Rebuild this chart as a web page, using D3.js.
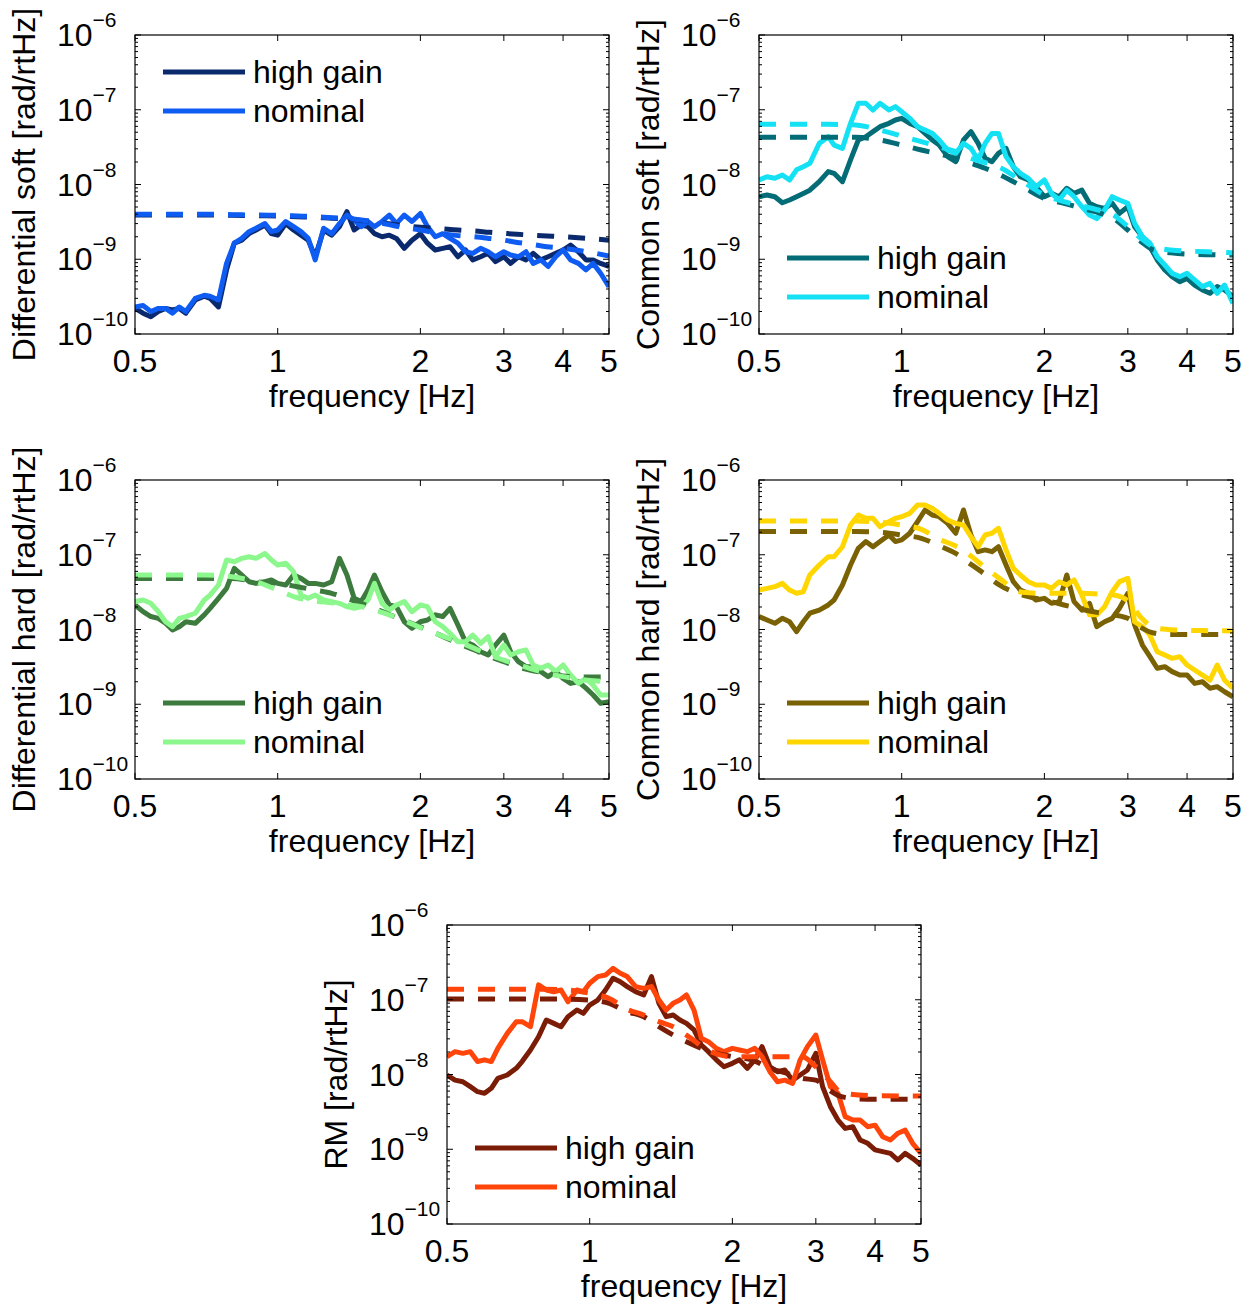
<!DOCTYPE html>
<html>
<head>
<meta charset="utf-8">
<script src="https://cdn.jsdelivr.net/npm/d3@7"></script>
<style>
  html, body { margin: 0; padding: 0; background: #fff; }
  svg { display: block; }
  text { font-family: "Liberation Sans", Arial, Helvetica, sans-serif; fill: #000; }
</style>
</head>
<body>
<svg id="chart" width="1250" height="1306"></svg>
<script>
// Frequency grid of the measured spectra [Hz]
const freq = [0.50, 0.52, 0.54, 0.56, 0.58, 0.60, 0.62, 0.64, 0.67, 0.70, 0.72, 0.75, 0.78, 0.81, 0.84, 0.87,
  0.90, 0.94, 0.97, 1.00, 1.04, 1.08, 1.12, 1.16, 1.20, 1.25, 1.30, 1.35, 1.40, 1.45, 1.50, 1.55,
  1.60, 1.66, 1.72, 1.78, 1.85, 1.92, 2.00, 2.07, 2.15, 2.23, 2.31, 2.40, 2.49, 2.58, 2.68, 2.78,
  2.88, 3.00, 3.10, 3.22, 3.34, 3.46, 3.59, 3.72, 3.86, 4.00, 4.15, 4.31, 4.47, 4.63, 4.80, 5.00];

// Frequency grid of the modelled spectra [Hz]
const freqModel = [0.5, 0.6, 0.7, 0.8, 0.9, 1.0, 1.1, 1.2, 1.3, 1.4, 1.5, 1.6, 1.8, 2.0, 2.2, 2.4, 2.6, 2.8,
  3.0, 3.2, 3.4, 3.7, 4.0, 4.5, 5.0];

// Differential soft [rad/rtHz]
const diffSoftHigh = [2.2e-10, 1.9e-10, 1.7e-10, 2.0e-10, 2.2e-10, 2.1e-10, 2.2e-10, 1.9e-10, 2.85e-10, 3.2e-10,
  3.0e-10, 2.3e-10, 7.2e-10, 1.64e-9, 1.8e-9, 2.2e-9, 2.46e-9, 2.87e-9, 2.2e-9, 2.1e-9,
  3.0e-9, 2.46e-9, 2.1e-9, 1.8e-9, 1.08e-9, 2.46e-9, 2.1e-9, 2.73e-9, 4.33e-9, 2.46e-9,
  2.87e-9, 2.73e-9, 2.2e-9, 2.0e-9, 2.1e-9, 1.9e-9, 1.4e-9, 1.8e-9, 2.2e-9, 1.64e-9,
  1.33e-9, 1.4e-9, 1.47e-9, 1.08e-9, 1.33e-9, 9.8e-10, 1.08e-9, 1.2e-9, 9.3e-10, 1.08e-9,
  8.8e-10, 1.08e-9, 9.8e-10, 1.2e-9, 9.8e-10, 1.08e-9, 1.2e-9, 1.33e-9, 1.55e-9, 1.26e-9,
  9.8e-10, 9.8e-10, 8.8e-10, 8.0e-10];
const diffSoftNom = [2.3e-10, 2.4e-10, 2.0e-10, 2.2e-10, 2.2e-10, 1.9e-10, 2.3e-10, 2.0e-10, 3.0e-10, 3.3e-10,
  3.2e-10, 2.85e-10, 8.8e-10, 1.64e-9, 1.9e-9, 2.34e-9, 2.6e-9, 3.0e-9, 2.34e-9, 2.46e-9,
  3.2e-9, 2.73e-9, 2.34e-9, 1.9e-9, 9.8e-10, 2.6e-9, 2.2e-9, 3.0e-9, 3.9e-9, 3.35e-9,
  2.73e-9, 3.2e-9, 2.73e-9, 3.2e-9, 3.9e-9, 3.0e-9, 3.9e-9, 3.2e-9, 4.1e-9, 2.73e-9,
  2.0e-9, 2.2e-9, 1.9e-9, 1.64e-9, 1.26e-9, 1.2e-9, 1.4e-9, 1.26e-9, 1.08e-9, 1.26e-9,
  1.14e-9, 1.08e-9, 1.26e-9, 8.8e-10, 9.8e-10, 8.0e-10, 1.08e-9, 1.33e-9, 9.8e-10, 8.8e-10,
  7.2e-10, 8.8e-10, 6.5e-10, 4.3e-10];
const diffSoftHighModel = [3.9e-9, 3.9e-9, 3.9e-9, 3.87e-9, 3.83e-9, 3.79e-9, 3.71e-9, 3.64e-9, 3.53e-9, 3.46e-9,
  3.31e-9, 3.18e-9, 2.87e-9, 2.68e-9, 2.57e-9, 2.46e-9, 2.39e-9, 2.29e-9, 2.22e-9, 2.16e-9,
  2.11e-9, 2.05e-9, 2.0e-9, 1.9e-9, 1.8e-9];
const diffSoftNomModel = [4.0e-9, 4.0e-9, 4.0e-9, 3.95e-9, 3.9e-9, 3.87e-9, 3.79e-9, 3.71e-9, 3.6e-9, 3.53e-9,
  3.35e-9, 3.18e-9, 2.73e-9, 2.46e-9, 2.22e-9, 2.07e-9, 2.0e-9, 1.9e-9, 1.8e-9, 1.68e-9,
  1.6e-9, 1.47e-9, 1.4e-9, 1.26e-9, 1.1e-9];

// Common soft [rad/rtHz]
const commSoftHigh = [6.87e-9, 7.24e-9, 6.87e-9, 5.7e-9, 6.2e-9, 6.87e-9, 7.6e-9, 8.4e-9, 1.09e-8, 1.49e-8,
  1.41e-8, 1.09e-8, 2.13e-8, 3.94e-8, 4.36e-8, 5.09e-8, 5.94e-8, 6.58e-8, 7.29e-8, 7.68e-8,
  6.58e-8, 5.94e-8, 4.83e-8, 3.94e-8, 3.37e-8, 2.36e-8, 2.02e-8, 3.94e-8, 5.09e-8, 3.55e-8,
  2.24e-8, 2.02e-8, 2.61e-8, 3.05e-8, 1.73e-8, 1.27e-8, 1.15e-8, 9.35e-9, 6.87e-9, 7.6e-9,
  6.87e-9, 8.9e-9, 7.6e-9, 8.4e-9, 5.6e-9, 5.05e-9, 4.8e-9, 5.6e-9, 4.11e-9, 5.05e-9,
  2.73e-9, 2.0e-9, 1.47e-9, 9.8e-10, 7.18e-10, 5.85e-10, 5.02e-10, 5.55e-10, 4.52e-10, 3.88e-10,
  3.5e-10, 4.3e-10, 3.88e-10, 3.16e-10];
const commSoftNom = [1.15e-8, 1.27e-8, 1.21e-8, 1.34e-8, 1.15e-8, 1.57e-8, 1.73e-8, 1.92e-8, 3.55e-8, 4.36e-8,
  3.37e-8, 3.05e-8, 6.58e-8, 1.22e-7, 1.22e-7, 9.9e-8, 1.22e-7, 9.9e-8, 1.1e-7, 9.4e-8,
  7.68e-8, 5.94e-8, 5.36e-8, 4.83e-8, 3.94e-8, 2.89e-8, 2.61e-8, 3.55e-8, 3.05e-8, 2.13e-8,
  3.55e-8, 4.83e-8, 4.83e-8, 2.36e-8, 1.73e-8, 1.41e-8, 1.21e-8, 9.35e-9, 1.15e-8, 7.6e-9,
  6.2e-9, 8.4e-9, 6.87e-9, 5.05e-9, 3.9e-9, 3.5e-9, 4.56e-9, 6.87e-9, 6.2e-9, 5.6e-9,
  3.03e-9, 2.0e-9, 1.64e-9, 1.08e-9, 8.38e-10, 6.48e-10, 5.85e-10, 6.48e-10, 5.28e-10, 4.3e-10,
  4.76e-10, 3.5e-10, 4.52e-10, 2.57e-10];
const commSoftHighModel = [4.3e-8, 4.3e-8, 4.3e-8, 4.3e-8, 3.94e-8, 3.37e-8, 2.89e-8, 2.56e-8, 2.24e-8, 1.92e-8,
  1.65e-8, 1.38e-8, 9.35e-9, 6.53e-9, 5.6e-9, 4.8e-9, 4.2e-9, 3.5e-9, 2.46e-9, 1.72e-9,
  1.33e-9, 1.22e-9, 1.17e-9, 1.15e-9, 1.14e-9];
const commSoftNomModel = [6.38e-8, 6.38e-8, 6.38e-8, 6.25e-8, 5.36e-8, 4.45e-8, 3.74e-8, 3.2e-8, 2.75e-8, 2.24e-8,
  1.96e-8, 1.73e-8, 1.09e-8, 7.24e-9, 5.89e-9, 5.16e-9, 4.56e-9, 3.9e-9, 2.73e-9, 1.9e-9,
  1.47e-9, 1.33e-9, 1.29e-9, 1.25e-9, 1.22e-9];

// Differential hard [rad/rtHz]
const diffHardHigh = [2.13e-8, 1.73e-8, 1.49e-8, 1.41e-8, 1.21e-8, 9.85e-9, 1.09e-8, 1.27e-8, 1.21e-8, 1.57e-8,
  1.92e-8, 2.61e-8, 3.55e-8, 6.58e-8, 5.36e-8, 4.36e-8, 4.14e-8, 4.36e-8, 4.6e-8, 4.14e-8,
  3.94e-8, 5.36e-8, 4.83e-8, 4.14e-8, 4.14e-8, 3.94e-8, 4.36e-8, 8.95e-8, 5.36e-8, 2.61e-8,
  2.36e-8, 3.37e-8, 5.36e-8, 3.2e-8, 2.13e-8, 2.02e-8, 1.27e-8, 1.04e-8, 1.27e-8, 1.34e-8,
  1.57e-8, 1.49e-8, 1.92e-8, 1.15e-8, 6.87e-9, 6.2e-9, 5.05e-9, 4.56e-9, 6.2e-9, 8.4e-9,
  5.05e-9, 3.71e-9, 3.18e-9, 3.18e-9, 2.73e-9, 2.34e-9, 2.73e-9, 2.22e-9, 1.9e-9, 2.0e-9,
  1.64e-9, 1.33e-9, 1.03e-9, 1.08e-9];
const diffHardNom = [2.36e-8, 2.48e-8, 2.24e-8, 1.73e-8, 1.27e-8, 1.09e-8, 1.41e-8, 1.49e-8, 1.65e-8, 2.48e-8,
  2.89e-8, 3.94e-8, 8.5e-8, 8.08e-8, 8.95e-8, 9.4e-8, 8.95e-8, 1.04e-7, 8.5e-8, 7.29e-8,
  7.68e-8, 5.94e-8, 2.89e-8, 2.61e-8, 2.89e-8, 2.48e-8, 2.36e-8, 2.24e-8, 2.02e-8, 1.92e-8,
  2.02e-8, 2.48e-8, 4.14e-8, 2.24e-8, 1.82e-8, 2.13e-8, 2.36e-8, 1.73e-8, 2.13e-8, 2.02e-8,
  1.27e-8, 1.09e-8, 8.9e-9, 6.87e-9, 6.87e-9, 8.4e-9, 6.53e-9, 8.0e-9, 4.33e-9, 6.2e-9,
  4.56e-9, 5.05e-9, 5.32e-9, 3.35e-9, 3.03e-9, 3.35e-9, 2.73e-9, 3.35e-9, 2.46e-9, 1.9e-9,
  2.22e-9, 1.8e-9, 1.33e-9, 1.33e-9];
const diffHardHighModel = [4.83e-8, 4.83e-8, 4.83e-8, 4.83e-8, 4.36e-8, 4.14e-8, 3.74e-8, 3.37e-8, 3.05e-8, 2.61e-8,
  2.24e-8, 1.92e-8, 1.41e-8, 1.09e-8, 8.4e-9, 6.53e-9, 5.32e-9, 4.33e-9, 3.71e-9, 3.18e-9,
  2.87e-9, 2.6e-9, 2.39e-9, 2.32e-9, 2.32e-9];
const diffHardNomModel = [5.36e-8, 5.36e-8, 5.36e-8, 5.09e-8, 4.36e-8, 3.37e-8, 2.66e-8, 2.41e-8, 2.27e-8, 2.13e-8,
  2.02e-8, 1.82e-8, 1.41e-8, 1.06e-8, 8.4e-9, 6.87e-9, 5.6e-9, 4.56e-9, 3.9e-9, 3.42e-9,
  3.03e-9, 2.6e-9, 2.34e-9, 2.1e-9, 2.0e-9];

// Common hard [rad/rtHz]
const commHardHigh = [1.49e-8, 1.34e-8, 1.21e-8, 1.41e-8, 1.27e-8, 9.35e-9, 1.27e-8, 1.65e-8, 1.82e-8, 2.13e-8,
  2.48e-8, 3.94e-8, 7.29e-8, 1.22e-7, 1.5e-7, 1.28e-7, 1.5e-7, 1.84e-7, 1.5e-7, 1.58e-7,
  1.94e-7, 2.77e-7, 3.97e-7, 3.4e-7, 3.23e-7, 2.63e-7, 1.94e-7, 3.97e-7, 1.84e-7, 1.1e-7,
  1.16e-7, 1.1e-7, 1.28e-7, 7.29e-8, 4.36e-8, 3.37e-8, 3.05e-8, 2.48e-8, 2.61e-8, 2.24e-8,
  2.36e-8, 5.36e-8, 2.36e-8, 1.82e-8, 2.24e-8, 1.09e-8, 1.27e-8, 1.41e-8, 1.92e-8, 3.05e-8,
  1.15e-8, 6.2e-9, 4.33e-9, 3.03e-9, 3.18e-9, 2.73e-9, 2.46e-9, 2.46e-9, 1.9e-9, 2.0e-9,
  1.64e-9, 1.72e-9, 1.47e-9, 1.26e-9];
const commHardNom = [3.37e-8, 3.55e-8, 3.74e-8, 4.14e-8, 3.37e-8, 3.05e-8, 3.2e-8, 5.36e-8, 7.29e-8, 9.4e-8,
  9.4e-8, 1.28e-7, 2.5e-7, 3.4e-7, 3.07e-7, 3.07e-7, 2.38e-7, 2.77e-7, 3.07e-7, 3.23e-7,
  3.58e-7, 4.63e-7, 4.63e-7, 4.18e-7, 3.58e-7, 2.92e-7, 2.63e-7, 2.5e-7, 1.74e-7, 1.28e-7,
  1.84e-7, 1.94e-7, 2.26e-7, 1.16e-7, 6.58e-8, 5.36e-8, 4.36e-8, 3.94e-8, 3.94e-8, 3.55e-8,
  4.36e-8, 3.94e-8, 4.6e-8, 2.89e-8, 1.57e-8, 1.57e-8, 2.02e-8, 3.2e-8, 4.36e-8, 4.83e-8,
  1.27e-8, 1.09e-8, 8.4e-9, 5.05e-9, 4.56e-9, 4.11e-9, 4.33e-9, 3.35e-9, 2.87e-9, 2.46e-9,
  2.1e-9, 3.35e-9, 2.1e-9, 1.64e-9];
const commHardHighModel = [2.04e-7, 2.04e-7, 2.04e-7, 2.04e-7, 2.0e-7, 1.84e-7, 1.66e-7, 1.32e-7, 1.04e-7, 7.44e-8,
  5.47e-8, 4.02e-8, 2.89e-8, 2.48e-8, 2.13e-8, 1.86e-8, 1.68e-8, 1.57e-8, 1.41e-8, 1.06e-8,
  8.98e-9, 8.6e-9, 8.6e-9, 8.6e-9, 8.6e-9];
const commHardNomModel = [2.83e-7, 2.83e-7, 2.83e-7, 2.83e-7, 2.72e-7, 2.5e-7, 2.19e-7, 1.61e-7, 1.31e-7, 9.62e-8,
  6.72e-8, 4.94e-8, 3.14e-8, 3.05e-8, 3.05e-8, 3.05e-8, 2.98e-8, 2.89e-8, 2.41e-8, 1.44e-8,
  1.06e-8, 9.95e-9, 9.74e-9, 9.64e-9, 9.54e-9];

// RM [rad/rtHz]
const rmHigh = [9.85e-9, 8.4e-9, 8.0e-9, 6.87e-9, 5.89e-9, 5.6e-9, 6.53e-9, 8.9e-9, 9.85e-9, 1.21e-8,
  1.49e-8, 2.13e-8, 3.2e-8, 5.36e-8, 4.83e-8, 4.36e-8, 5.94e-8, 7.29e-8, 6.58e-8, 8.5e-8,
  9.9e-8, 1.35e-7, 1.94e-7, 1.74e-7, 1.5e-7, 1.28e-7, 1.16e-7, 2.04e-7, 8.95e-8, 5.94e-8,
  6.25e-8, 5.36e-8, 4.83e-8, 3.94e-8, 2.48e-8, 2.02e-8, 1.57e-8, 1.27e-8, 1.41e-8, 1.57e-8,
  1.21e-8, 1.57e-8, 2.36e-8, 1.27e-8, 1.09e-8, 1.15e-8, 8.4e-9, 9.85e-9, 1.15e-8, 1.92e-8,
  6.87e-9, 3.71e-9, 2.46e-9, 1.9e-9, 2.0e-9, 1.33e-9, 1.2e-9, 9.8e-10, 9.3e-10, 8.8e-10,
  7.18e-10, 8.8e-10, 7.56e-10, 6.16e-10];
const rmNom = [1.73e-8, 2.02e-8, 1.92e-8, 2.02e-8, 1.49e-8, 1.57e-8, 1.49e-8, 2.24e-8, 3.55e-8, 5.09e-8,
  5.09e-8, 4.36e-8, 1.58e-7, 1.35e-7, 1.28e-7, 1.35e-7, 9.4e-8, 1.35e-7, 1.28e-7, 1.66e-7,
  2.04e-7, 2.14e-7, 2.63e-7, 2.26e-7, 2.04e-7, 1.5e-7, 1.42e-7, 1.5e-7, 9.9e-8, 7.29e-8,
  8.95e-8, 9.9e-8, 1.16e-7, 7.29e-8, 3.05e-8, 2.75e-8, 2.24e-8, 2.02e-8, 2.24e-8, 2.13e-8,
  2.02e-8, 2.24e-8, 1.73e-8, 1.09e-8, 8.0e-9, 8.4e-9, 7.6e-9, 1.57e-8, 2.36e-8, 3.37e-8,
  1.57e-8, 6.87e-9, 5.6e-9, 2.73e-9, 2.46e-9, 2.46e-9, 2.0e-9, 2.1e-9, 1.47e-9, 1.33e-9,
  1.64e-9, 1.8e-9, 1.2e-9, 8.8e-10];
const rmHighModel = [1.02e-7, 1.02e-7, 1.02e-7, 1.02e-7, 1.02e-7, 9.9e-8, 8.95e-8, 6.93e-8, 5.94e-8, 4.36e-8,
  3.37e-8, 2.75e-8, 2.02e-8, 1.73e-8, 1.57e-8, 1.21e-8, 1.04e-8, 8.9e-9, 8.4e-9, 6.2e-9,
  5.05e-9, 4.7e-9, 4.65e-9, 4.65e-9, 4.65e-9];
const rmNomModel = [1.38e-7, 1.38e-7, 1.38e-7, 1.38e-7, 1.35e-7, 1.22e-7, 1.04e-7, 7.44e-8, 6.25e-8, 5.09e-8,
  4.36e-8, 3.37e-8, 2.02e-8, 1.73e-8, 1.73e-8, 1.73e-8, 1.73e-8, 1.73e-8, 1.27e-8, 8.4e-9,
  5.7e-9, 5.32e-9, 5.2e-9, 5.16e-9, 5.16e-9];

// Axis ticks and labels
const xTicks = [0.5, 1, 2, 3, 4, 5];
const xTickLabels = ["0.5", "1", "2", "3", "4", "5"];
const yDecades = [1e-10, 1e-9, 1e-8, 1e-7, 1e-6];
const yExponents = ["\u221210", "\u22129", "\u22128", "\u22127", "\u22126"];
const legendLabels = ["high gain", "nominal"];
const xAxisTitle = "frequency [Hz]";

// Panel definitions
const panels = [
  { ylabel: "Differential soft [rad/rtHz]", high: diffSoftHigh, nom: diffSoftNom,
    highModel: diffSoftHighModel, nomModel: diffSoftNomModel, colors: ["#0b2a6e", "#0f5cf2"], legendAt: "top" },
  { ylabel: "Common soft [rad/rtHz]", high: commSoftHigh, nom: commSoftNom,
    highModel: commSoftHighModel, nomModel: commSoftNomModel, colors: ["#036c76", "#14e2f4"], legendAt: "bottom" },
  { ylabel: "Differential hard [rad/rtHz]", high: diffHardHigh, nom: diffHardNom,
    highModel: diffHardHighModel, nomModel: diffHardNomModel, colors: ["#3d7a3d", "#8cf78c"], legendAt: "bottom" },
  { ylabel: "Common hard [rad/rtHz]", high: commHardHigh, nom: commHardNom,
    highModel: commHardHighModel, nomModel: commHardNomModel, colors: ["#7a6103", "#ffd600"], legendAt: "bottom" },
  { ylabel: "RM [rad/rtHz]", high: rmHigh, nom: rmNom,
    highModel: rmHighModel, nomModel: rmNomModel, colors: ["#7a1c06", "#ff450a"], legendAt: "bottom" }
];

// Page placement of each axes box
const boxes = [
  { left: 135, top: 35 }, { left: 759, top: 35 },
  { left: 135, top: 480 }, { left: 759, top: 480 },
  { left: 447, top: 925 }
];
const boxW = 474, boxH = 299;

const svg = d3.select("#chart");

panels.forEach((p, i) => {
  const b = boxes[i];
  const g = svg.append("g").attr("transform", `translate(${b.left},${b.top})`);

  const x = d3.scaleLog().domain([0.5, 5]).range([0, boxW]);
  const y = d3.scaleLog().domain([1e-10, 1e-6]).range([boxH, 0]);

  const clipId = "clip" + i;
  g.append("clipPath").attr("id", clipId)
    .append("rect").attr("width", boxW).attr("height", boxH);

  const plot = g.append("g").attr("clip-path", `url(#${clipId})`);

  const line = d3.line().x(d => x(d[0])).y(d => y(d[1]));
  const smooth = d3.line().x(d => x(d[0])).y(d => y(d[1])).curve(d3.curveMonotoneX);

  const series = [
    { pts: d3.zip(freq, p.high), color: p.colors[0], dash: null, gen: line },
    { pts: d3.zip(freq, p.nom), color: p.colors[1], dash: null, gen: line },
    { pts: d3.zip(freqModel, p.highModel), color: p.colors[0], dash: "17,14", gen: smooth },
    { pts: d3.zip(freqModel, p.nomModel), color: p.colors[1], dash: "17,14", gen: smooth }
  ];
  series.forEach(s => {
    plot.append("path")
      .attr("d", s.gen(s.pts))
      .attr("fill", "none")
      .attr("stroke", s.color)
      .attr("stroke-width", 5)
      .attr("stroke-linejoin", "round")
      .attr("stroke-dasharray", s.dash);
  });

  // Box
  g.append("rect").attr("width", boxW).attr("height", boxH)
    .attr("fill", "none").attr("stroke", "#000").attr("stroke-width", 1.2);

  // Y ticks (major + minor), inward on both sides
  const ticks = g.append("g").attr("stroke", "#000").attr("stroke-width", 1);
  yDecades.forEach((dec, k) => {
    const yy = y(dec);
    ticks.append("line").attr("x1", 0).attr("x2", 6).attr("y1", yy).attr("y2", yy);
    ticks.append("line").attr("x1", boxW).attr("x2", boxW - 6).attr("y1", yy).attr("y2", yy);
    if (k < yDecades.length - 1) {
      for (let m = 2; m <= 9; m++) {
        const ym = y(dec * m);
        ticks.append("line").attr("x1", 0).attr("x2", 3).attr("y1", ym).attr("y2", ym);
        ticks.append("line").attr("x1", boxW).attr("x2", boxW - 3).attr("y1", ym).attr("y2", ym);
      }
    }
  });
  // X ticks, inward top and bottom
  xTicks.forEach(t => {
    const xx = x(t);
    ticks.append("line").attr("x1", xx).attr("x2", xx).attr("y1", boxH).attr("y2", boxH - 6);
    ticks.append("line").attr("x1", xx).attr("x2", xx).attr("y1", 0).attr("y2", 6);
  });

  // Y tick labels as 10^n
  yDecades.forEach((dec, k) => {
    const t = g.append("text")
      .attr("x", -78).attr("y", y(dec) + 11)
      .attr("font-size", 32)
      .text("10");
    t.append("tspan").attr("dy", -19).attr("font-size", 21).text(yExponents[k]);
  });

  // X tick labels
  xTicks.forEach((t, k) => {
    g.append("text")
      .attr("x", x(t)).attr("y", boxH + 38)
      .attr("text-anchor", "middle").attr("font-size", 32)
      .text(xTickLabels[k]);
  });

  // Axis titles
  g.append("text")
    .attr("x", boxW / 2).attr("y", boxH + 73)
    .attr("text-anchor", "middle").attr("font-size", 32)
    .text(xAxisTitle);
  g.append("text")
    .attr("transform", `translate(-100,${boxH / 2}) rotate(-90)`)
    .attr("text-anchor", "middle").attr("font-size", 32)
    .text(p.ylabel);

  // Legend
  const legY = p.legendAt === "top" ? [37, 76] : [boxH - 76, boxH - 37];
  legendLabels.forEach((lab, k) => {
    g.append("line")
      .attr("x1", 28).attr("x2", 110)
      .attr("y1", legY[k]).attr("y2", legY[k])
      .attr("stroke", p.colors[k]).attr("stroke-width", 5);
    g.append("text")
      .attr("x", 118).attr("y", legY[k] + 11)
      .attr("font-size", 32)
      .text(lab);
  });
});
</script>
</body>
</html>
